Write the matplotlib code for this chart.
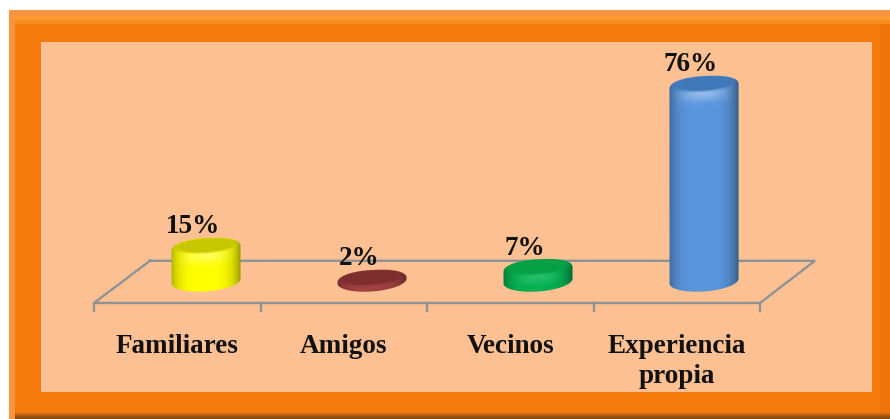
import numpy as np
import matplotlib
matplotlib.use('Agg')
import matplotlib.pyplot as plt
from matplotlib.patches import Rectangle, PathPatch
from matplotlib.path import Path

categories = ['Familiares', 'Amigos', 'Vecinos', 'Experiencia\npropia']
values = [15, 2, 7, 76]
body_colors = ['#FFFF00', '#A04040', '#00B050', '#5A96DE']
cap_colors = ['#C8C800', '#7E2E2E', '#07A045', '#4079BA']

W, H = 890, 419
PEACH = '#FCC092'
GRAY = '#8E9396'

# pixel mapping of the plot
X0, DX = 206.0, 166.0
Y0, DY = 288.3, 2.656
BASE = 2.75          # where the cylinders stand on the floor
RX, RY, TILT = 0.208, 3.95, 0.9

plt.rcParams['font.family'] = ['Liberation Serif', 'DejaVu Serif']
fig = plt.figure(figsize=(W / 100, H / 100), dpi=100, facecolor='white')

# frame, in pixels
bg = fig.add_axes([0, 0, 1, 1])
bg.set_xlim(0, W)
bg.set_ylim(H, 0)
bg.axis('off')


def band(x0, y0, x1, y1, c):
    bg.add_patch(Rectangle((x0, y0), x1 - x0, y1 - y0, fc=c, ec='none'))


band(9, 10, W, H, '#F57A0E')
band(9, 10, 15, H, '#F9953E')
band(9, 10, W, 16, '#F9953E')
band(15, 16, W, 20, '#FB9A2E')
band(15, 20, W, 24, '#F98A1C')
for i, c in enumerate(['#E8730F', '#D96C10', '#C4630F', '#AE5A10', '#98520F', '#8C4D10', '#8C4D10']):
    band(15, 412 + i, W, 413 + i, c)
band(880, 24, W, 412, '#F0740C')
band(41, 42, 872, 392, PEACH)

# chart axes sit on the inner panel
ax = fig.add_axes([41 / W, 1 - 392 / H, (872 - 41) / W, 350 / H])
ax.patch.set_alpha(0)
ax.axis('off')


def outline(xc, yc, a, b, p=1.0):
    # p below 1 squares the shoulders off a little
    t = np.linspace(a, b, 80)
    c, s = np.cos(t), np.sin(t)
    cx = np.sign(c) * np.abs(c) ** p
    sy = np.sign(s) * np.abs(s) ** p
    return np.column_stack([xc + RX * cx, yc + RY * sy + TILT * c])


def cylinder(x, v, body, cap):
    top = max(v, BASE + 0.2)
    verts = np.vstack([outline(x, top, 0, np.pi, 0.88), outline(x, BASE, np.pi, 2 * np.pi), [[x + RX, top + TILT]]])
    clip = PathPatch(Path(verts), transform=ax.transData, fc='none', ec='none')
    ax.add_patch(clip)

    y = np.linspace(BASE - RY - 1.5, top + RY + 1.5, 300)
    u = np.linspace(-1, 1, 120)
    uu, yy = np.meshgrid(u, y)
    side = 1 - 0.30 * np.abs(uu) ** 4 - 0.10 * np.clip(uu, 0, 1) ** 3
    # top face is a smaller ellipse set back from the rim
    d = np.sqrt((uu / 0.9) ** 2 + ((yy - top - 0.9 - TILT * uu) / (RY * 0.72)) ** 2)
    face = np.clip((1.12 - d) / 0.25, 0, 1)[..., None]
    # light band on the rim, just under the top face, fades out on flat discs
    glow = 0.35 * np.exp(-((yy - top + 3.0 - TILT * uu) / 2.6) ** 2) * (1 - uu ** 2) ** 2
    glow = glow * min(1, (top - BASE) / 10)

    b = np.array(matplotlib.colors.to_rgb(body))
    c = np.array(matplotlib.colors.to_rgb(cap))
    img = b * side[..., None]
    img = img + (1 - img) * glow[..., None]
    img = img * (1 - face) + c * face
    im = ax.imshow(np.clip(img, 0, 1), extent=[x - RX, x + RX, y[0], y[-1]], origin='lower', aspect='auto',
                   interpolation='bilinear', zorder=3)
    im.set_clip_path(clip)
    return top


# floor
FRONT, BACK = -5.53, 10.36
fl, fr = (94 - X0) / DX, (760 - X0) / DX
bl, br = (150 - X0) / DX, (815 - X0) / DX
ax.plot([bl, fl, fr, br, bl], [BACK, FRONT, FRONT, BACK, BACK], color=GRAY, lw=1.7, zorder=1, solid_joinstyle='miter')
for i in range(len(categories) + 1):
    ax.plot([fl + i * (fr - fl) / 4] * 2, [FRONT, FRONT - 3], color=GRAY, lw=1.7, zorder=1)

for i, (cat, v) in enumerate(zip(categories, values)):
    top = cylinder(i, v, body_colors[i], cap_colors[i])
    ax.text(i - 0.08, top + RY + 4.2, f'{v}%', ha='center', va='center', fontsize=19.5, fontweight='bold',
            color='#111111', zorder=4)
    ax.text(fl + (i + 0.5) * (fr - fl) / 4, -17.2, cat, ha='center', va='top', fontsize=19.5, fontweight='bold',
            color='#111111', linespacing=1.27, zorder=4)

ax.set_xlim((41 - X0) / DX, (872 - X0) / DX)
ax.set_ylim((Y0 - 392) / DY, (Y0 - 42) / DY)

fig.savefig('out.png', dpi=100)
